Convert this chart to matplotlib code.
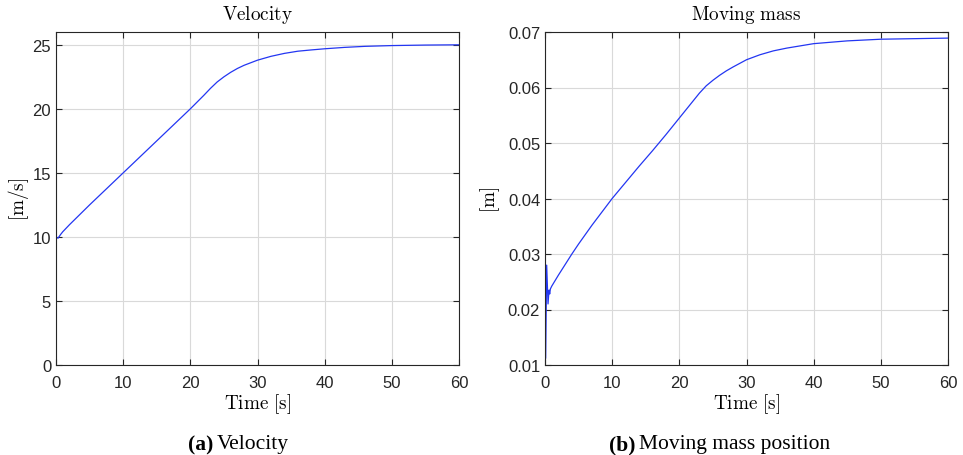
import matplotlib
matplotlib.use('Agg')
import matplotlib.pyplot as plt
import numpy as np

# velocity [m/s]
t_vel = [0, 0.3, 0.7, 1, 2, 5, 10, 15, 20, 22, 23, 24, 25, 26, 27, 28, 29, 30,
         32, 34, 36, 38, 40, 43, 46, 50, 55, 60]
vel = [10.0, 9.9, 10.2, 10.4, 10.95, 12.5, 15.0, 17.5, 20.0, 21.05, 21.6, 22.1,
       22.5, 22.85, 23.15, 23.4, 23.6, 23.8, 24.1, 24.33, 24.5, 24.6, 24.69, 24.8,
       24.88, 24.94, 24.98, 25.0]

# moving mass position [m]
t_mass = [0, 0.1, 0.25, 0.45, 0.6, 0.7, 0.8, 1, 2, 3, 4, 5, 6, 7, 8, 9, 10, 12,
          14, 16, 18, 20, 22, 23, 24, 25, 26, 27, 28, 30, 32, 34, 36, 38, 40, 45,
          50, 55, 60]
mass = [0.0275, 0.0112, 0.028, 0.021, 0.0235, 0.0228, 0.0237, 0.0242, 0.0262,
        0.0281, 0.0300, 0.0318, 0.0335, 0.0352, 0.0368, 0.0384, 0.0400, 0.0429,
        0.0458, 0.0486, 0.0515, 0.0545, 0.0575, 0.0590, 0.0603, 0.0613, 0.0622,
        0.0630, 0.0637, 0.0650, 0.0659, 0.0666, 0.0671, 0.0675, 0.0679, 0.0684,
        0.0687, 0.0688, 0.0689]

plt.rcParams['mathtext.fontset'] = 'cm'
tick_font = ['Liberation Sans', 'DejaVu Sans']
line_col = '#2336f2'
edge = '#262626'

fig = plt.figure(figsize=(9.63, 4.56), dpi=100)
ax1 = fig.add_axes([56 / 963, 90 / 456, 403 / 963, 333 / 456])
ax2 = fig.add_axes([545 / 963, 90 / 456, 403 / 963, 333 / 456])


def style_ax(ax):
    ax.grid(True, color='#d9d9d9', linewidth=0.8)
    ax.set_axisbelow(True)
    for s in ax.spines.values():
        s.set_color(edge)
        s.set_linewidth(0.8)
    ax.tick_params(direction='in', top=True, right=True, length=4,
                   width=0.8, color=edge, labelcolor=edge, labelsize=12)
    ax.tick_params(axis='x', pad=7)
    for lab in ax.get_xticklabels() + ax.get_yticklabels():
        lab.set_family(tick_font)
    ax.set_xlabel(r'$\mathrm{Time\ [s]}$', fontsize=13.8, labelpad=1)


ax1.plot(t_vel, vel, color=line_col, linewidth=0.9)
ax1.set_xlim(0, 60)
ax1.set_ylim(0, 26)
ax1.set_xticks(np.arange(0, 61, 10))
ax1.set_yticks(np.arange(0, 26, 5))
ax1.set_title(r'$\mathrm{Velocity}$', fontsize=13.8, pad=9)
ax1.set_ylabel(r'$\mathrm{[m/s]}$', fontsize=13.8, labelpad=1)
style_ax(ax1)

ax2.plot(t_mass, mass, color=line_col, linewidth=0.9)
ax2.set_xlim(0, 60)
ax2.set_ylim(0.01, 0.07)
ax2.set_xticks(np.arange(0, 61, 10))
ax2.set_yticks(np.arange(0.01, 0.0701, 0.01))
ax2.set_yticklabels(['0.01', '0.02', '0.03', '0.04', '0.05', '0.06', '0.07'])
ax2.set_title(r'$\mathrm{Moving\ mass}$', fontsize=13.8, pad=9)
ax2.set_ylabel(r'$\mathrm{[m]}$', fontsize=13.8, labelpad=4)
style_ax(ax2)

cap = ['Liberation Serif', 'DejaVu Serif']
fig.text(213 / 963, 1 - 445 / 456, '(a)', family=cap, weight='bold',
         fontsize=15.5, ha='right', va='center')
fig.text(217 / 963, 1 - 445 / 456, 'Velocity', family=cap,
         fontsize=15.5, ha='left', va='center')
fig.text(635 / 963, 1 - 445 / 456, '(b)', family=cap, weight='bold',
         fontsize=15.5, ha='right', va='center')
fig.text(639 / 963, 1 - 445 / 456, 'Moving mass position', family=cap,
         fontsize=15.5, ha='left', va='center')

fig.savefig('out.png', dpi=100)
